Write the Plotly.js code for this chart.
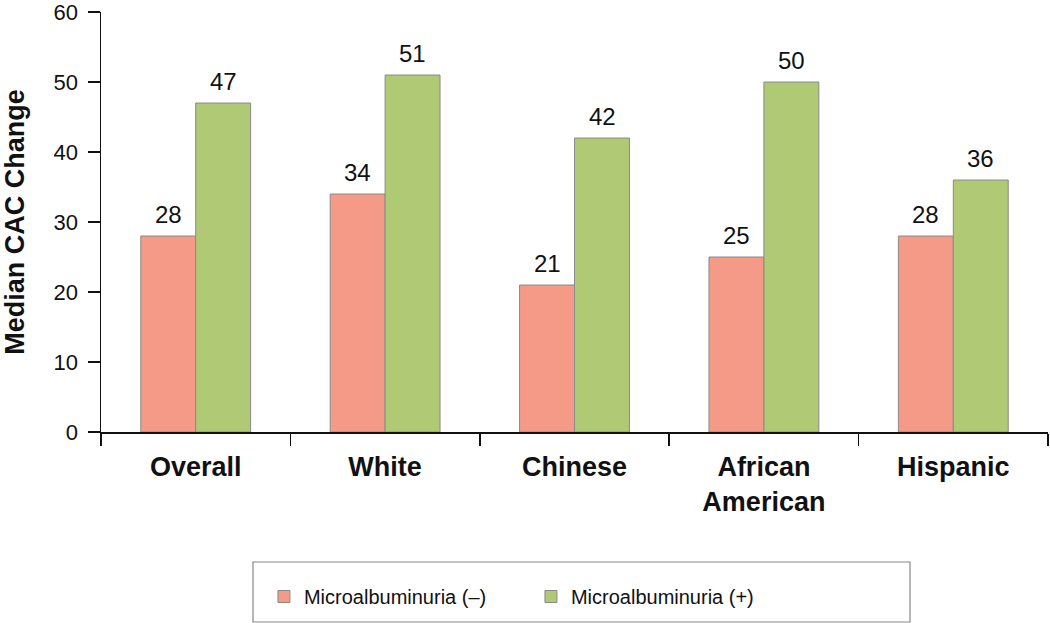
<!DOCTYPE html>
<html>
<head>
<meta charset="utf-8">
<script src="https://cdn.plot.ly/plotly-3.0.1.min.js"></script>
<style>html,body{margin:0;padding:0;background:#fff;}#chart{width:1050px;height:623px;}</style>
</head>
<body>
<div id="chart"></div>
<script>
const categories = ["Overall", "White", "Chinese", "African<br>American", "Hispanic"];
const negValues = [28, 34, 21, 25, 28];
const posValues = [47, 51, 42, 50, 36];
const seriesNames = ["Microalbuminuria (\u2013)", "Microalbuminuria (+)"];
const yTicks = [0, 10, 20, 30, 40, 50, 60];

const FONT = "Liberation Sans, Arial, Helvetica, sans-serif";

const traces = [
  {type: "bar", name: seriesNames[0], x: categories, y: negValues,
   marker: {color: "#F49A87", line: {color: "#8a8a8a", width: 1}}},
  {type: "bar", name: seriesNames[1], x: categories, y: posValues,
   marker: {color: "#AFC975", line: {color: "#8a8a8a", width: 1}}}
];

const annotations = [];
[negValues, posValues].forEach((vals, si) => {
  vals.forEach((v, i) => {
    annotations.push({x: categories[i], y: v, xref: "x", yref: "y",
      text: String(v), showarrow: false, yanchor: "bottom",
      xshift: si === 0 ? -27.5 : 27.5, yshift: 6,
      font: {family: FONT, size: 24, color: "#111"}});
  });
});

const PT = 12, PB = 191;
const layout = {
  width: 1050, height: 623,
  margin: {l: 101, r: 2, t: PT, b: PB},
  paper_bgcolor: "#fff", plot_bgcolor: "#fff",
  font: {family: FONT, size: 20, color: "#111"},
  barmode: "group", bargap: 0.42, bargroupgap: 0,
  showlegend: true,
  legend: {orientation: "h", x: 0.454, xanchor: "center", y: (432 - 577) / 420, yanchor: "top",
    font: {family: FONT, size: 20, color: "#111"}, entrywidth: 222, entrywidthmode: "pixels",
    bgcolor: "rgba(0,0,0,0)", borderwidth: 0, traceorder: "normal"},
  xaxis: {type: "category", showline: true, linecolor: "#111", linewidth: 1.5,
    ticks: "outside", tickson: "boundaries", ticklen: 12, tickcolor: "#111", tickwidth: 1.5,
    ticklabelstandoff: 10,
    tickfont: {family: FONT, size: 27, color: "#111", weight: "bold"},
    showgrid: false, zeroline: false, fixedrange: true},
  yaxis: {range: [0, 60], tickvals: yTicks, showline: true, linecolor: "#111", linewidth: 1.5,
    ticks: "outside", ticklen: 12, tickcolor: "#111", tickwidth: 1.5,
    ticklabelstandoff: 5, ticklabeloverflow: "allow",
    tickfont: {family: FONT, size: 22, color: "#111"},
    showgrid: false, zeroline: false,
    title: {text: "Median CAC Change", font: {family: FONT, size: 27, color: "#111", weight: "bold"}, standoff: 22}},
  annotations: annotations,
  shapes: [{type: "rect", xref: "paper", yref: "paper",
    x0: (253 - 101) / 947, x1: (910 - 101) / 947,
    y0: (432 - 622) / 420, y1: (432 - 562) / 420,
    line: {color: "#888", width: 1.2}, fillcolor: "rgba(0,0,0,0)"}]
};

Plotly.newPlot("chart", traces, layout, {displayModeBar: false, staticPlot: true});
</script>
</body>
</html>
